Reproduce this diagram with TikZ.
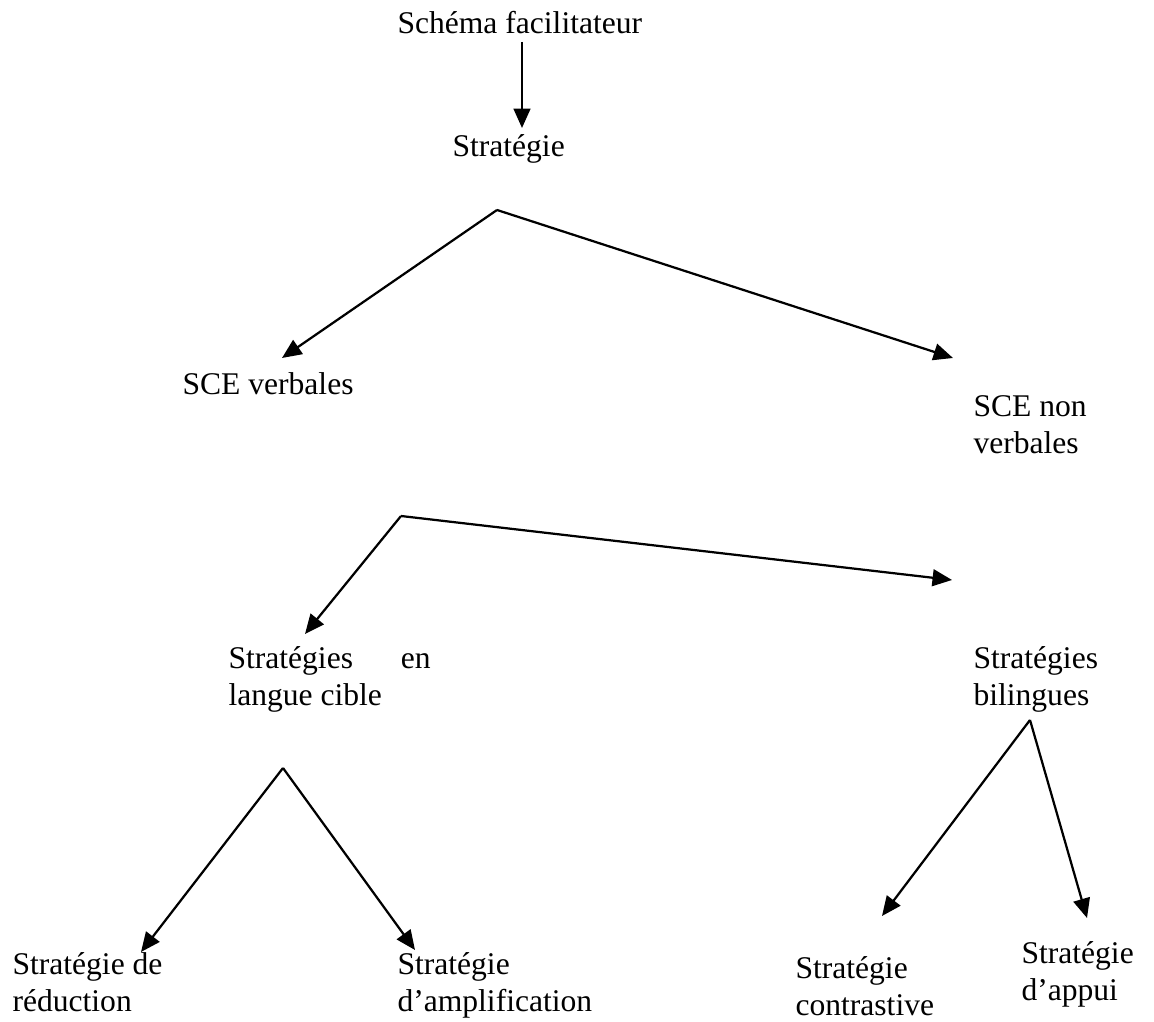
\documentclass[tikz,border=0pt]{standalone}
\usepackage{fontspec}
\setmainfont{Liberation Serif}
\usetikzlibrary{arrows.meta}
\begin{document}
\begin{tikzpicture}[x=0.38pt,y=-0.38pt,
  lbl/.style={anchor=base west, inner sep=0pt, font=\fontsize{12}{13.8}\selectfont},
  arr/.style={line width=0.85pt, -{Triangle[length=7.4pt,width=6.4pt]}}]
\useasboundingbox (0,0) rectangle (1154,1022);

% labels
\node[lbl] (t0) at (397,34) {Schéma facilitateur};
\node[lbl] (t1) at (452,157) {Stratégie};
\node[lbl] (t2) at (182,395) {SCE verbales};
\node[lbl] (t3) at (973,417) {\parbox[t]{70pt}{\raggedright SCE non\\verbales}};
\node[lbl] (t4) at (228,669) {\parbox[t]{76.8pt}{\raggedright Stratégies\hfill en\\langue cible}};
\node[lbl] (t5) at (973,669) {\parbox[t]{70pt}{\raggedright Stratégies\\bilingues}};
\node[lbl] (t6) at (12,975) {\parbox[t]{90pt}{\raggedright Stratégie de\\réduction}};
\node[lbl] (t7) at (397,975) {\parbox[t]{90pt}{\raggedright Stratégie\\d’amplification}};
\node[lbl] (t8) at (795,979) {\parbox[t]{70pt}{\raggedright Stratégie\\contrastive}};
\node[lbl] (t9) at (1021,964) {\parbox[t]{50pt}{\raggedright Stratégie\\d’appui}};

% branching points and arrow ends
\coordinate (v0) at (522,42);
\coordinate (v1) at (522,128);
\coordinate (p1) at (497,210);
\coordinate (p1l) at (282,358);
\coordinate (p1r) at (953,358);
\coordinate (p2) at (401,516);
\coordinate (p2l) at (305,634);
\coordinate (p2r) at (952,580);
\coordinate (p3) at (283,768);
\coordinate (p3l) at (141,952);
\coordinate (p3r) at (415,950);
\coordinate (p4) at (1030,720);
\coordinate (p4l) at (882,916);
\coordinate (p4r) at (1087,918);

% connectors
\draw[arr] (v0) -- (v1);
\draw[arr] (p1) -- (p1l);
\draw[arr] (p1) -- (p1r);
\draw[arr] (p2) -- (p2l);
\draw[arr] (p2) -- (p2r);
\draw[arr] (p3) -- (p3l);
\draw[arr] (p3) -- (p3r);
\draw[arr] (p4) -- (p4l);
\draw[arr] (p4) -- (p4r);
\end{tikzpicture}
\end{document}
